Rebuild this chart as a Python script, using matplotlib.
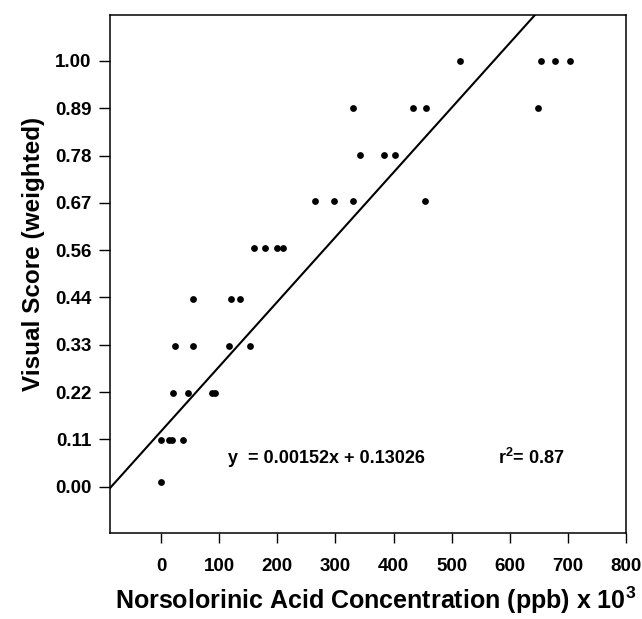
import numpy as np
import matplotlib
matplotlib.use("Agg")
import matplotlib.pyplot as plt

plt.rcParams['font.family'] = ['Liberation Sans', 'DejaVu Sans']
plt.rcParams['font.weight'] = 'bold'
plt.rcParams['mathtext.default'] = 'regular'

# concentration (ppb x 10^3) and weighted visual score
conc = [0, 0, 14, 19, 38,
        20, 46, 88, 92,
        24, 55, 117, 153,
        54, 121, 136,
        160, 179, 199, 210,
        265, 297, 330, 454,
        342, 384, 403,
        330, 434, 455, 649,
        515, 653, 677, 704]
score = [0.01, 0.11, 0.11, 0.11, 0.11,
         0.22, 0.22, 0.22, 0.22,
         0.33, 0.33, 0.33, 0.33,
         0.44, 0.44, 0.44,
         0.56, 0.56, 0.56, 0.56,
         0.67, 0.67, 0.67, 0.67,
         0.78, 0.78, 0.78,
         0.89, 0.89, 0.89, 0.89,
         1.00, 1.00, 1.00, 1.00]

slope = 0.00152
intercept = 0.13026
r2 = 0.87

ytick_vals = [k / 9 for k in range(10)]
ytick_labels = ['0.00', '0.11', '0.22', '0.33', '0.44',
                '0.56', '0.67', '0.78', '0.89', '1.00']
xtick_vals = [0, 100, 200, 300, 400, 500, 600, 700, 800]

fig = plt.figure(figsize=(6.42, 6.19), dpi=100)
ax = fig.add_axes([110 / 642, 86 / 619, 516 / 642, 518 / 619])

xmin, xmax = -88, 800
ymin, ymax = -0.109, 1.108

# regression line
xl = np.array([xmin, xmax])
ax.plot(xl, slope * xl + intercept, color='black', lw=1.5)

ax.scatter(conc, score, s=24, color='black', zorder=3, linewidths=0)

ax.set_xlim(xmin, xmax)
ax.set_ylim(ymin, ymax)
ax.set_xticks(xtick_vals)
ax.set_yticks(ytick_vals)
ax.set_yticklabels(ytick_labels)
ax.tick_params(axis='y', direction='out', length=8, width=1, pad=5.5, labelsize=13.5)
ax.tick_params(axis='x', direction='out', length=7.5, width=1, pad=10.5, labelsize=13.5)
for sp in ax.spines.values():
    sp.set_linewidth(1.1)

ax.text(115, 0.067, 'y  = 0.00152x + 0.13026', fontsize=13, va='center', ha='left')
ax.text(580, 0.067, 'r$^2$= %.2f' % r2, fontsize=13, va='center', ha='left')

fig.text(34 / 642, 1 - 254 / 619, 'Visual Score (weighted)', rotation=90,
         ha='center', va='center', fontsize=17.5)
fig.text(376 / 642, 1 - 600 / 619, 'Norsolorinic Acid Concentration (ppb) x 10$^3$',
         ha='center', va='center', fontsize=18)

plt.savefig('out.png', dpi=100)
